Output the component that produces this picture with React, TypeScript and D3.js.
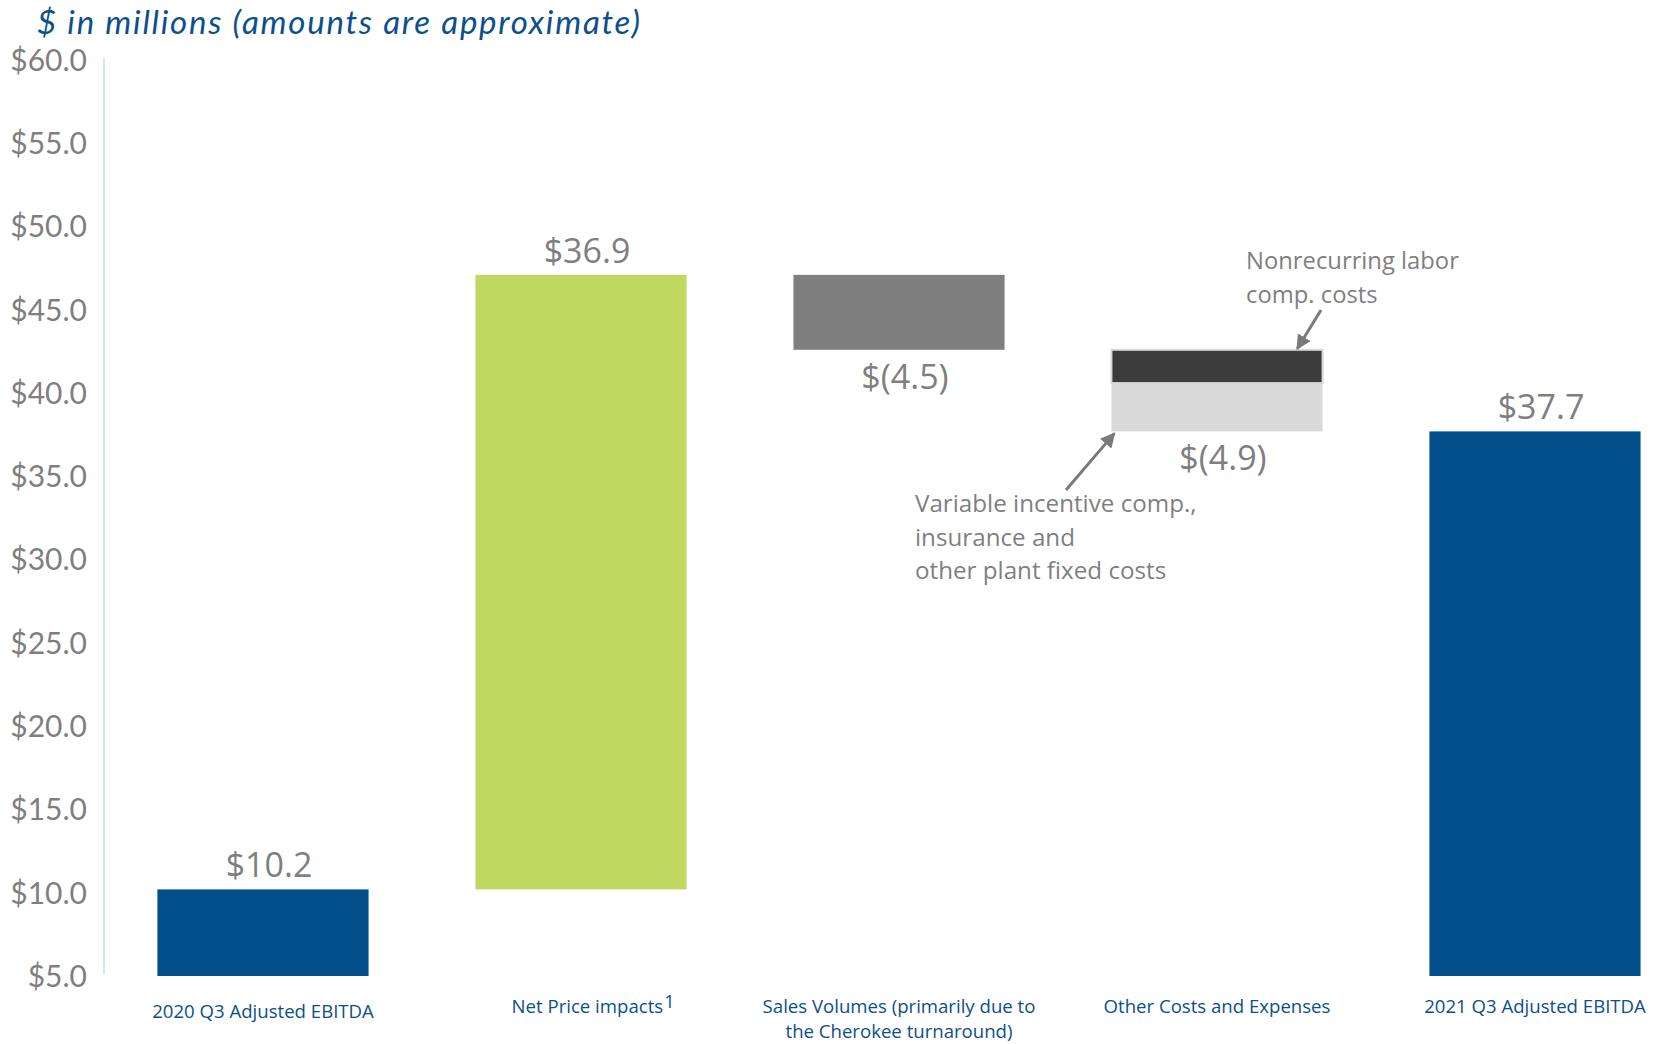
import * as d3 from 'd3';

const categories = [
	['2020 Q3 Adjusted EBITDA'],
	['Net Price impacts'],
	['Sales Volumes (primarily due to', 'the Cherokee turnaround)'],
	['Other Costs and Expenses'],
	['2021 Q3 Adjusted EBITDA'],
];
const values = [10.2, 36.9, -4.5, -4.9, 37.7];
const isTotal = [true, false, false, false, true];
const valueLabels = ['$10.2', '$36.9', '$(4.5)', '$(4.9)', '$37.7'];
// the "Other Costs" step split into two parts
const otherParts = [-2.0, -2.9];
const otherColors = ['#3c3c3c', '#d9d9d9'];
const barColors = ['#034f8c', '#bfd960', '#7f7f7f', '#d9d9d9', '#034f8c'];
const yTicks = [5, 10, 15, 20, 25, 30, 35, 40, 45, 50, 55, 60];

const width = 1660;
const height = 1044;
const gray = '#7f7f7f';
const blue = '#0b4f8e';
const font = '"Open Sans", sans-serif';
const font2 = 'Lato, "Open Sans", sans-serif';

export default function App() {
	const x = d3
		.scaleBand<number>()
		.domain(d3.range(categories.length))
		.range([104, 1694])
		.paddingInner(0.336)
		.paddingOuter(0.168);
	const y = d3.scaleLinear().domain([5, 60]).range([976, 60]);
	const fmt = (v: number) => '$' + d3.format('.1f')(v);

	// waterfall start / end for each bar
	let run = 0;
	const bars = values.map((v, i) => {
		if (isTotal[i]) {
			run = v;
			return {i, lo: y.domain()[0], hi: v, v};
		}
		const start = run;
		run += v;
		return {i, lo: Math.min(start, run), hi: Math.max(start, run), v};
	});

	const other = bars[3];
	let segStart = other.hi;
	const segs = otherParts.map((p, k) => {
		const s = {top: segStart, bottom: segStart + p, color: otherColors[k]};
		segStart += p;
		return s;
	});

	return (
		<div style={{position: 'absolute', left: 0, top: 0}}>
			<svg width={width} height={height} style={{display: 'block', background: '#fff'}}>
				<text
					x={37}
					y={34}
					fontFamily={font2}
					fontStyle="italic"
					fontSize={33}
					fill={blue}
					textLength={603}
					lengthAdjust="spacing"
				>
					$ in millions (amounts are approximate)
				</text>

				<line x1={104} x2={104} y1={58} y2={974} stroke="#d4e5f5" strokeWidth={2} />
				{yTicks.map((t) => (
					<text
						key={t}
						x={87}
						y={y(t)}
						dy="0.36em"
						textAnchor="end"
						fontFamily={font2}
						fontSize={30}
						fill={gray}
					>
						{fmt(t)}
					</text>
				))}

				{bars.map((b) =>
					b.i === 3 ? (
						<g key={b.i}>
							{segs.map((s, k) => (
								<rect
									key={k}
									x={x(b.i)!}
									y={y(s.top)}
									width={x.bandwidth()}
									height={y(s.bottom) - y(s.top)}
									fill={s.color}
									stroke="#d9d9d9"
									strokeWidth={k === 0 ? 2 : 0}
								/>
							))}
						</g>
					) : (
						<rect
							key={b.i}
							x={x(b.i)!}
							y={y(b.hi)}
							width={x.bandwidth()}
							height={y(b.lo) - y(b.hi)}
							fill={barColors[b.i]}
						/>
					)
				)}

				{bars.map((b) => (
					<text
						key={'v' + b.i}
						x={x(b.i)! + x.bandwidth() / 2 + 6}
						y={b.v < 0 ? y(b.lo) + 39 : y(b.hi) - 12}
						textAnchor="middle"
						fontFamily={font}
						fontSize={34}
						fill={gray}
					>
						{valueLabels[b.i]}
					</text>
				))}

				{categories.map((lines, i) => {
					const cx = x(i)! + x.bandwidth() / 2 + (i === 1 ? 12 : 0);
					return (
						<text
							key={'c' + i}
							x={cx}
							y={i === 0 ? 1018 : 1013}
							textAnchor="middle"
							fontFamily={font}
							fontSize={18.6}
							fill={blue}
						>
							{lines.map((l, k) => (
								<tspan key={k} x={cx} dy={k === 0 ? 0 : 25}>
									{l}
								</tspan>
							))}
							{i === 1 && (
								<tspan dx={1} dy={-5} fontSize={18}>
									1
								</tspan>
							)}
						</text>
					);
				})}

				<defs>
					<marker id="arr" viewBox="0 0 10 10" refX={9} refY={5} markerWidth={5} markerHeight={5} orient="auto">
						<path d="M0,0 L10,5 L0,10 z" fill="#7a7a7a" />
					</marker>
				</defs>

				<text x={1246} y={269} fontFamily={font} fontSize={23.8} fill={gray}>
					<tspan x={1246}>Nonrecurring labor</tspan>
					<tspan x={1246} dy={34}>
						comp. costs
					</tspan>
				</text>
				<line
					x1={1321}
					y1={310}
					x2={x(3)! + x.bandwidth() * 0.88}
					y2={y(other.hi) - 1}
					stroke="#7a7a7a"
					strokeWidth={3}
					markerEnd="url(#arr)"
				/>

				<text x={915} y={512} fontFamily={font} fontSize={24.2} fill={gray}>
					<tspan x={915}>Variable incentive comp.,</tspan>
					<tspan x={915} dy={33.5}>
						insurance and
					</tspan>
					<tspan x={915} dy={33.5}>
						other plant fixed costs
					</tspan>
				</text>
				<line
					x1={1066}
					y1={490}
					x2={x(3)! + 3}
					y2={y(other.lo) + 2}
					stroke="#7a7a7a"
					strokeWidth={3}
					markerEnd="url(#arr)"
				/>
			</svg>
		</div>
	);
}
